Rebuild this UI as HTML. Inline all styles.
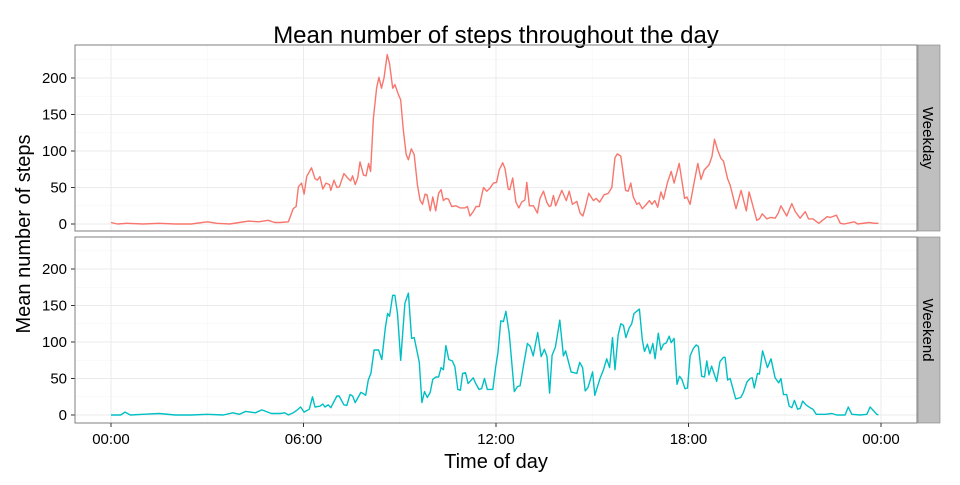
<!DOCTYPE html>
<html><head><meta charset="utf-8"><style>
body{margin:0;background:#fff;}
svg text{font-family:"Liberation Sans",sans-serif;}
</style></head><body>
<svg id="chart" width="960" height="480" xmlns="http://www.w3.org/2000/svg">
<text x="496" y="43" font-size="24" text-anchor="middle">Mean number of steps throughout the day</text>
<text x="496" y="468" font-size="20" text-anchor="middle">Time of day</text>
<text transform="translate(30,234) rotate(-90)" font-size="20" text-anchor="middle">Mean number of steps</text>
<g id="panels"></g>
</svg>
<script>
const xTicks=[0,6,12,18,24];
const xTickLabels=["00:00","06:00","12:00","18:00","00:00"];
const yTicks=[0,50,100,150,200];
const panelNames=["Weekday","Weekend"];
const weekdayHours=[0,0.2,0.5,1,1.5,2,2.5,3,3.3,3.7,4,4.3,4.6,4.9,5.1,5.27,5.53,5.68,5.77,5.84,5.94,6.02,6.10,6.25,6.36,6.43,6.51,6.60,6.70,6.81,6.85,6.95,7.04,7.12,7.26,7.40,7.47,7.53,7.61,7.69,7.76,7.87,7.95,8.03,8.09,8.18,8.28,8.35,8.43,8.51,8.61,8.68,8.78,8.85,8.96,9.03,9.11,9.20,9.27,9.36,9.45,9.55,9.63,9.71,9.79,9.85,9.95,10.03,10.12,10.21,10.29,10.36,10.44,10.52,10.62,10.75,10.88,11.03,11.11,11.19,11.29,11.38,11.48,11.61,11.71,11.81,11.92,12.02,12.10,12.21,12.28,12.38,12.43,12.52,12.62,12.71,12.80,12.90,12.96,13.04,13.17,13.29,13.37,13.48,13.58,13.66,13.71,13.79,13.86,14.05,14.19,14.28,14.38,14.52,14.62,14.71,14.78,14.89,15.04,15.12,15.23,15.37,15.50,15.61,15.71,15.78,15.89,16.04,16.12,16.20,16.28,16.39,16.46,16.56,16.67,16.78,16.86,16.95,17.04,17.14,17.22,17.34,17.46,17.55,17.71,17.88,17.95,18.05,18.17,18.29,18.39,18.49,18.64,18.73,18.81,18.91,19.01,19.09,19.22,19.30,19.48,19.64,19.80,19.89,20.13,20.21,20.30,20.44,20.56,20.70,20.80,20.88,21.06,21.22,21.33,21.48,21.64,21.74,21.88,22.06,22.32,22.43,22.61,22.73,22.85,23.17,23.27,23.64,23.80,23.92];
const weekdaySteps=[2,0,1,0,1,0,0,3,1,0,2,4,3,5,2,2,3,21,24,51,56,41,65,77,62,60,65,48,56,54,46,60,50,51,69,62,59,66,54,63,85,67,66,83,72,145,186,201,186,200,232,220,186,191,177,170,129,95,88,103,95,54,33,27,41,40,18,37,18,42,47,32,35,34,24,25,22,22,24,11,17,24,24,50,45,49,56,57,74,84,76,48,47,63,30,22,30,33,57,25,25,15,35,45,30,24,25,39,25,46,32,45,27,31,15,11,22,42,32,35,30,40,42,50,91,96,93,46,45,56,37,27,29,21,26,32,27,32,23,44,34,56,72,56,83,35,37,27,56,83,61,74,81,92,116,101,90,86,62,53,21,46,18,44,5,7,14,7,9,8,15,25,11,28,17,8,17,7,7,1,10,9,12,1,0,3,0,2,1,1];
const weekendHours=[0,0.3,0.44,0.6,1,1.5,2,2.5,3,3.5,3.8,4,4.2,4.5,4.7,5,5.27,5.42,5.53,5.68,5.78,5.91,6.02,6.18,6.28,6.36,6.51,6.60,6.67,6.77,6.85,7.04,7.11,7.26,7.35,7.45,7.53,7.61,7.79,7.87,7.94,8.02,8.10,8.20,8.34,8.44,8.55,8.62,8.68,8.78,8.85,8.93,9.03,9.16,9.27,9.37,9.45,9.61,9.69,9.77,9.86,9.95,10.03,10.13,10.21,10.29,10.36,10.44,10.53,10.64,10.72,10.81,10.89,10.96,11.05,11.13,11.21,11.29,11.37,11.47,11.55,11.64,11.73,11.90,11.99,12.06,12.15,12.23,12.31,12.41,12.57,12.67,12.75,12.85,12.98,13.07,13.16,13.30,13.41,13.51,13.59,13.67,13.75,13.85,13.99,14.10,14.17,14.34,14.52,14.61,14.70,14.78,14.87,15.01,15.08,15.24,15.35,15.45,15.54,15.63,15.71,15.81,15.89,15.97,16.05,16.15,16.23,16.30,16.47,16.56,16.63,16.72,16.80,16.89,16.96,17.06,17.14,17.22,17.31,17.40,17.46,17.55,17.64,17.72,17.79,17.89,17.97,18.05,18.15,18.24,18.31,18.41,18.50,18.57,18.64,18.72,18.88,18.98,19.09,19.14,19.22,19.30,19.47,19.63,19.71,19.82,19.92,19.99,20.05,20.15,20.21,20.31,20.46,20.57,20.70,20.81,20.88,20.96,21.06,21.14,21.22,21.30,21.40,21.48,21.56,21.66,21.79,21.88,21.98,22.15,22.26,22.47,22.62,22.88,22.98,23.09,23.35,23.56,23.66,23.87,23.92];
const weekendSteps=[0,0,4,0,1,2,0,0,1,0,3,1,5,3,7,2,2,3,0,3,6,11,4,8,25,11,12,15,11,14,10,26,26,14,13,28,26,17,31,29,27,48,57,89,89,76,119,139,135,164,164,139,75,153,167,105,106,72,17,32,24,31,49,52,52,65,62,95,76,74,66,35,34,57,58,43,47,51,43,35,36,50,35,35,66,85,129,128,142,112,32,39,40,66,98,94,81,113,80,90,80,30,82,93,130,81,88,59,57,72,65,33,38,59,27,50,62,77,65,106,62,110,125,123,106,119,125,139,145,103,87,97,84,98,77,112,89,97,99,108,99,105,42,53,49,36,37,81,91,96,94,53,52,74,55,67,46,73,79,79,48,50,22,24,31,45,50,51,37,57,56,88,65,77,51,44,50,28,28,12,10,20,8,9,19,14,10,8,1,1,1,2,0,0,11,1,0,1,11,1,0];

const NS="http://www.w3.org/2000/svg";
const root=document.getElementById('panels');
const X0=111, X24=881;
function xScale(h){return X0+(X24-X0)*h/24;}
const panels=[{top:45,bottom:231,zero:224,data:[weekdayHours,weekdaySteps],color:"#F8766D"},
              {top:237,bottom:423,zero:415,data:[weekendHours,weekendSteps],color:"#00BFC4"}];
function mk(tag,attrs){const e=document.createElementNS(NS,tag);for(const k in attrs)e.setAttribute(k,attrs[k]);return e;}
panels.forEach((p,pi)=>{
  const yScale=v=>p.zero-v*0.73;
  const g=mk('g',{});
  
  
  root.appendChild(g);
  // minor grid
  for(let v=25;v<=225;v+=50){const y=yScale(v);if(y>p.top)g.appendChild(mk('line',{x1:75,x2:917,y1:y,y2:y,stroke:'#f5f5f5','stroke-width':0.6}));}
  for(let h=3;h<=21;h+=6){const x=xScale(h);g.appendChild(mk('line',{x1:x,x2:x,y1:p.top,y2:p.bottom,stroke:'#f5f5f5','stroke-width':0.6}));}
  yTicks.forEach(v=>{const y=yScale(v);
    const l=mk('line',{x1:75,x2:917,y1:y,y2:y,stroke:'#ebebeb','stroke-width':1});
    
    
    g.appendChild(l);
    g.appendChild(mk('line',{x1:71,x2:75,y1:y,y2:y,stroke:'#333','stroke-width':1}));
    const t=mk('text',{x:67,y:y+5,'font-size':15,'text-anchor':'end',fill:'#000'});
    t.textContent=v;
    
    
    g.appendChild(t);
  });
  xTicks.forEach(h=>{const x=xScale(h);
    g.appendChild(mk('line',{x1:x,x2:x,y1:p.top,y2:p.bottom,stroke:'#ebebeb','stroke-width':1}));
  });
  const [hs,vs]=p.data;
  const d=hs.map((h,i)=>(i?'L':'M')+xScale(h).toFixed(1)+','+yScale(vs[i]).toFixed(1)).join('');
  const path=mk('path',{d:d,fill:'none',stroke:p.color,'stroke-width':1.4,'stroke-linejoin':'round'});
  
  
  g.appendChild(path);
  g.appendChild(mk('rect',{x:75,y:p.top,width:842,height:p.bottom-p.top,fill:'none',stroke:'#7f7f7f','stroke-width':1}));
  const s=mk('rect',{x:918,y:p.top,width:22,height:p.bottom-p.top,fill:'#bfbfbf',stroke:'#7f7f7f','stroke-width':0.6});
  
  
  g.appendChild(s);
  const cy=(p.top+p.bottom)/2;
  const st=mk('text',{transform:`translate(923,${cy}) rotate(90)`,'font-size':15,'text-anchor':'middle'});
  st.textContent=panelNames[pi];
  
  
  g.appendChild(st);
});
xTicks.forEach((h,i)=>{const x=xScale(h);
  root.appendChild(mk('line',{x1:x,x2:x,y1:423,y2:427,stroke:'#333','stroke-width':1}));
  const t=mk('text',{x:x,y:444,'font-size':15,'text-anchor':'middle'});
  t.textContent=xTickLabels[i];
  
  
  root.appendChild(t);
});
</script>
</body></html>
